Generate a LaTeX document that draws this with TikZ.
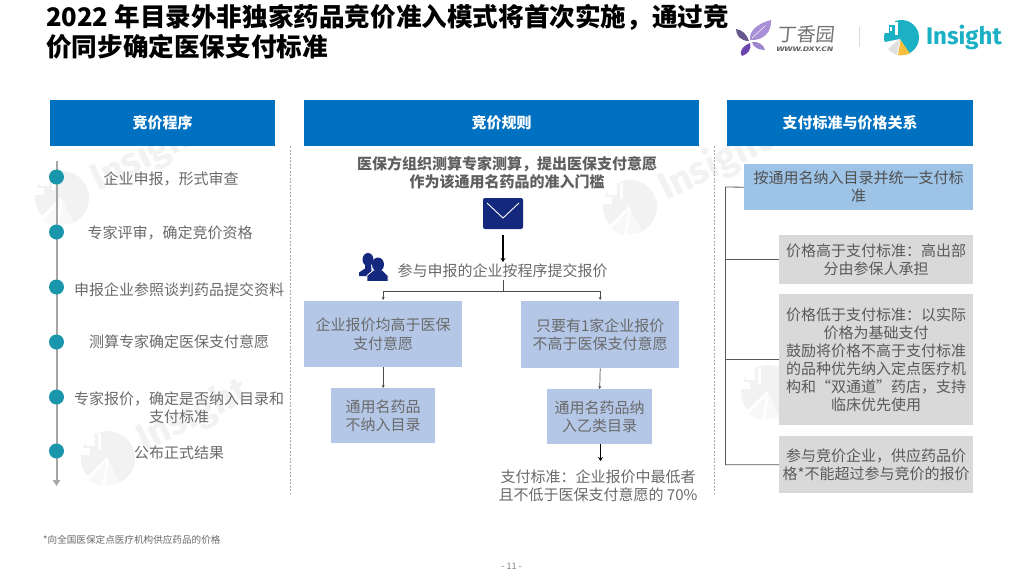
\documentclass[tikz,border=0pt]{standalone}
\usepackage{fontspec}
\setmainfont{Noto Sans CJK SC}
\newfontfamily\latinlogo{Fira Sans}
\newfontfamily\slantcjk[FakeSlant=0.1]{Noto Sans CJK SC}
\usetikzlibrary{arrows.meta,calc}
\definecolor{hdr}{HTML}{0070C0}
\definecolor{txt}{HTML}{6A6A6A}
\definecolor{lblue}{HTML}{B4C7E7}
\definecolor{mblue}{HTML}{9DC3E6}
\definecolor{gbox}{HTML}{D9D9D9}
\definecolor{dot}{HTML}{1A96AC}
\definecolor{navy}{HTML}{14287E}
\definecolor{wm}{HTML}{F2F2F2}
\definecolor{wmb}{HTML}{F8F8F8}
\definecolor{teal}{HTML}{1CB0C4}
\definecolor{pa}{HTML}{A88FD6}
\definecolor{pb}{HTML}{66588F}
\definecolor{pc}{HTML}{6A45B0}
\definecolor{pd}{HTML}{9C86CF}
\definecolor{ylw}{HTML}{F6BE3B}
\tikzset{
  hdrbox/.style={fill=hdr,text=white,font=\fontsize{15}{18}\selectfont\bfseries,minimum height=46pt,inner sep=0pt,anchor=north west},
  flowbox/.style={fill=lblue,text=txt,font=\fontsize{15}{18.2}\selectfont,align=center,inner sep=0pt,anchor=north west},
  sidebox/.style={fill=gbox,text=txt!85!black,font=\fontsize{15}{18}\selectfont,align=center,inner sep=0pt,anchor=north west},
  steptext/.style={text=txt,font=\fontsize{15}{18}\selectfont,align=center,inner sep=0pt},
  stepdot/.style={circle,fill=dot,minimum size=15pt,inner sep=0pt},
  thinarrow/.style={draw=black!70,line width=0.7pt,-{Stealth[length=3pt,width=3pt]}},
  thickarrow/.style={draw=black,line width=1.5pt,-{Stealth[length=4pt,width=5pt]}},
  bracket/.style={draw=black!65,line width=0.8pt},
  divider/.style={draw=black!35,line width=0.6pt,dash pattern=on 2pt off 1.5pt},
  wmtext/.style={text=wm,font=\latinlogo\bfseries\fontsize{38}{38}\selectfont,rotate=26,anchor=west,inner sep=0pt}
}
\newcommand{\wmark}[2]{%
  \begin{scope}[shift={(#1,#2)}]
    \fill[wm] (0,0) circle (27);
    \fill[white] (-1,-1) -- (-24,22) -- (-10,34) -- (14,34) -- cycle;
    \fill[wmb] (-1,2) -- (-19,22) arc (130:100:27) -- cycle;
    \fill[wmb] (1,3) -- (-3,26.8) arc (97:65:27) -- cycle;
    \fill[white] (-30,-10) rectangle (-18,-3);
    \fill[white] (-22,-22) rectangle (-13,-12);
    \fill[white] (-10,-24) rectangle (-7,-8);
  \end{scope}}
\begin{document}
\begin{tikzpicture}[x=1pt,y=-1pt]
\useasboundingbox (0,0) rectangle (1024,576);
\fill[white] (0,0) rectangle (1024,576);
% watermarks
\wmark{62}{198}
\wmark{630}{207}
\wmark{108}{458}
\wmark{768}{392}
\node[wmtext] (wma) at (93,182) {Insight};
\node[wmtext] (wmb) at (661,191) {Insight};
\node[wmtext] (wmc) at (139,442) {Insight};
\node[wmtext] (wmd) at (799,376) {Insight};
% title
\node[anchor=west,inner sep=0pt,font=\fontsize{25.6}{30}\selectfont\bfseries] (t1) at (46,17) {2022 年目录外非独家药品竞价准入模式将首次实施，通过竞};
\node[anchor=west,inner sep=0pt,font=\fontsize{25.6}{30}\selectfont\bfseries] (t2) at (46,47) {价同步确定医保支付标准};
% DXY logo
\fill[pa] (750,40) .. controls (749,29) and (760,23) .. (771,20) .. controls (772,31) and (764,41) .. (750,40);
\draw[white,line width=0.5pt] (752,38) -- (765,26);
\fill[pb] (749,41) .. controls (746,33) and (742,30) .. (736,29) .. controls (736,36) and (741,41) .. (749,41);
\fill[pc] (750,43) .. controls (745,45) and (738,50) .. (742,56) .. controls (748,54) and (752,49) .. (750,43);
\fill[pd] (752,42) .. controls (753,47) and (758,50) .. (765,50) .. controls (764,45) and (758,41) .. (752,42);
\node[anchor=west,inner sep=0pt,text=black!55,font=\slantcjk\fontsize{19}{19}\selectfont] (dxy) at (777,34) {丁香园};
\node[anchor=west,inner sep=0pt,xscale=1.5,text=black!60,font=\latinlogo\itshape\bfseries\fontsize{6.5}{7}\selectfont] (dxyu) at (776,49) {WWW.DXY.CN};
\draw[black!15,line width=1pt] (859,27) -- (859,47);
% Insight logo
\fill[teal] (901.5,37.5) circle (17.5);
\fill[white] (881,18) rectangle (889,33);
\fill[white] (889,18) rectangle (895,24.5);
\fill[white] (895,22) rectangle (897.5,35);
\fill[white] (890,27) rectangle (892,31);
\fill[white] (880,43) -- (900,39) -- (912,60) -- (880,60) -- cycle;
\fill[black!12] (900,38.5) -- (888,49) .. controls (891,52) and (894,54) .. (897,55) -- cycle;
\fill[ylw] (900.5,40) -- (898,55.2) .. controls (902,55.5) and (906,55) .. (910,53.5) -- cycle;
\node[anchor=west,inner sep=0pt,text=teal,font=\latinlogo\bfseries\fontsize{24}{24}\selectfont] (ins) at (926,37) {Insight};
% headers
\node[hdrbox,minimum width=225pt] (h1) at (50,100) {竞价程序};
\node[hdrbox,minimum width=395pt] (h2) at (304,100) {竞价规则};
\node[hdrbox,minimum width=246pt] (h3) at (727,100) {支付标准与价格关系};
% dividers
\coordinate (d1a) at (290,146); \coordinate (d1b) at (290,493);
\coordinate (d2a) at (714,146); \coordinate (d2b) at (714,493);
\draw[divider] (d1a) -- (d1b);
\draw[divider] (d2a) -- (d2b);
% timeline
\coordinate (tla) at (56.5,161); \coordinate (tlb) at (56.5,486);
\draw[draw=black!35,line width=2pt,-{Triangle[length=6pt,width=7pt]}] (tla) -- (tlb);
\node[stepdot] (s1) at (56.5,177) {};
\node[stepdot] (s2) at (56.5,232) {};
\node[stepdot] (s3) at (56.5,287) {};
\node[stepdot] (s4) at (56.5,342) {};
\node[stepdot] (s5) at (56.5,397) {};
\node[stepdot] (s6) at (56.5,451) {};
\node[steptext] (l1) at (171,178.5) {企业申报，形式审查};
\node[steptext] (l2) at (170,233) {专家评审，确定竞价资格};
\node[steptext] (l3) at (179,289.5) {申报企业参照谈判药品提交资料};
\node[steptext] (l4) at (179,342) {测算专家确定医保支付意愿};
\node[steptext] (l5) at (179,408) {专家报价，确定是否纳入目录和\\支付标准};
\node[steptext] (l6) at (179,453) {公布正式结果};
% middle
\node[align=center,inner sep=0pt,text=txt!90!black,font=\fontsize{15}{18}\selectfont\bfseries] (m0) at (507,173) {医保方组织测算专家测算，提出医保支付意愿\\作为该通用名药品的准入门槛};
\node[fill=navy,rounded corners=2pt,minimum width=40pt,minimum height=31pt,inner sep=0pt] (env) at (503,213.5) {};
\draw[white,line width=0.9pt] (487,203) -- (503,218) -- (519,203);
\node[inner sep=0pt,text=txt,font=\fontsize{15}{18}\selectfont] (m1) at (502.5,271) {参与申报的企业按程序提交报价};
% people icon
\fill[navy] (368,259.5) ellipse (5.5 and 6.5);
\fill[navy] (365,264) -- (371,264) -- (372,276) -- (359,276) -- (359,272.5) -- (365,268.5) -- cycle;
\fill[navy,draw=white,line width=0.8pt] (373.5,270) -- (367,275.5) -- (367,281.5) -- (388,281.5) -- (388,275.5) -- (382.5,270) -- cycle;
\fill[navy] (378,264.5) ellipse (6 and 7);
\coordinate (arrm) at (503,262);
\draw[thickarrow] ($(env.south)+(0,6)$) -- (arrm);
\node[flowbox,minimum width=158pt,minimum height=66pt] (a) at (304,301) {企业报价均高于医保\\支付意愿};
\node[flowbox,minimum width=158pt,minimum height=67pt] (b) at (521,301) {只要有1家企业报价\\不高于医保支付意愿};
\node[flowbox,minimum width=104pt,minimum height=55pt] (c) at (331,388) {通用名药品\\不纳入目录};
\node[flowbox,minimum width=105pt,minimum height=55pt] (d) at (547,389) {通用名药品纳\\入乙类目录};
\coordinate (tr) at (503,291);
\coordinate (trtop) at (503,280);
\draw[draw=black!70,line width=0.7pt] (trtop) -- (tr);
\draw[thinarrow] (tr) -| ($(a.north)+(0,-1)$);
\draw[thinarrow] (tr) -| ($(b.north)+(0,-1)$);
\draw[thinarrow] (a.south) -- (c.north);
\draw[thinarrow] (b.south) -- (d.north);
\node[align=center,inner sep=0pt,text=txt,font=\fontsize{15}{18}\selectfont] (pay) at (598,486) {支付标准：企业报价中最低者\\且不低于医保支付意愿的 70\%};
\coordinate (arrd) at (600.5,461);
\draw[thickarrow] (d.south -| arrd) -- (arrd);
% right column
\node[fill=mblue,text=txt!75!black,font=\fontsize{15}{18}\selectfont,align=center,inner sep=0pt,anchor=north west,minimum width=229pt,minimum height=46pt] (r1) at (744,164) {按通用名纳入目录并统一支付标\\准};
\node[sidebox,minimum width=194pt,minimum height=49pt] (r2) at (779,235) {价格高于支付标准：高出部\\分由参保人承担};
\node[sidebox,minimum width=194pt,minimum height=131pt] (r3) at (779,294) {价格低于支付标准：以实际\\价格为基础支付\\鼓励将价格不高于支付标准\\的品种优先纳入定点医疗机\\构和“双通道”药店，支持\\临床优先使用};
\node[sidebox,minimum width=194pt,minimum height=57pt] (r4) at (779,436) {参与竞价企业，供应药品价\\格*不能超过参与竞价的报价};
\coordinate (br) at (725.5,187);
\draw[bracket] (r1.west) -- (br) -- (br |- r4.west) -- (r4.west);
\draw[bracket] (r2.west) -- (br |- r2.west);
\draw[bracket] (r3.west) -- (br |- r3.west);
% footer
\node[anchor=west,inner sep=0pt,text=txt,font=\fontsize{9.6}{11}\selectfont] (fn) at (43,540) {*向全国医保定点医疗机构供应药品的价格};
\node[inner sep=0pt,text=black!50,font=\fontsize{9}{10}\selectfont] (pg) at (511.5,566) {- 11 -};
\end{tikzpicture}
\end{document}
